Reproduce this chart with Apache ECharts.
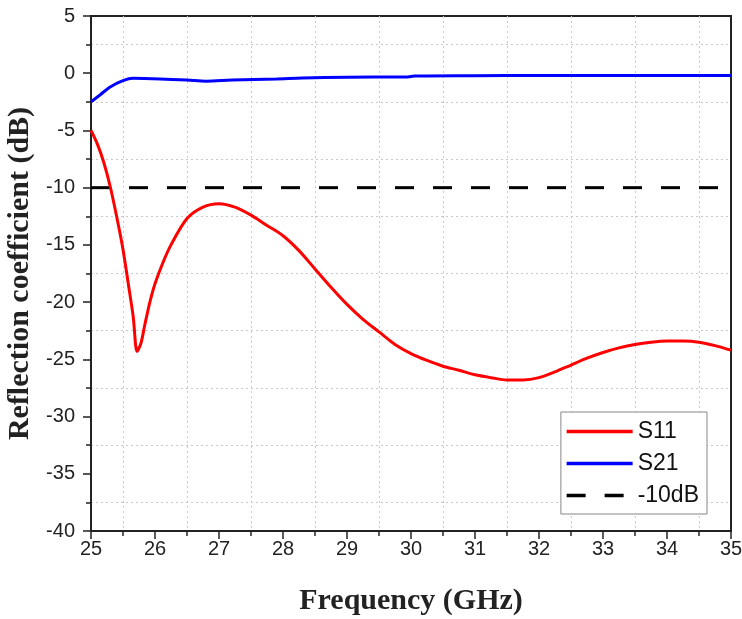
<!DOCTYPE html>
<html>
<head>
<meta charset="utf-8">
<script src="https://cdn.jsdelivr.net/npm/echarts@6/dist/echarts.min.js"></script>
<style>html,body{margin:0;padding:0;background:#fff;}#c{width:742px;height:619px;}</style>
</head>
<body>
<div id="c"></div>
<script>
// Data
var s11Freq = [25.0, 25.1, 25.2, 25.3, 25.4, 25.5, 25.58, 25.66, 25.72, 25.78, 25.84, 25.92, 26.0, 26.12, 26.25, 26.5, 26.75, 27.0, 27.25, 27.5, 27.75, 28.0, 28.25, 28.5, 28.75, 29.0, 29.25, 29.5, 29.75, 30.0, 30.25, 30.5, 30.75, 31.0, 31.25, 31.5, 31.75, 32.0, 32.25, 32.5, 32.75, 33.0, 33.25, 33.5, 33.75, 34.0, 34.25, 34.5, 34.75, 35.0];
var s11Val  = [-5.0, -6.2, -7.8, -9.9, -12.5, -15.4, -18.3, -21.3, -24.3, -23.6, -22.0, -20.0, -18.4, -16.6, -15.0, -12.7, -11.7, -11.4, -11.7, -12.4, -13.3, -14.2, -15.5, -17.1, -18.7, -20.2, -21.5, -22.6, -23.7, -24.5, -25.1, -25.6, -25.95, -26.35, -26.6, -26.8, -26.8, -26.6, -26.1, -25.5, -24.9, -24.4, -24.0, -23.7, -23.5, -23.4, -23.4, -23.5, -23.8, -24.2];
var s21Freq = [25.0, 25.14, 25.3, 25.5, 25.66, 26.08, 26.5, 26.8, 27.2, 27.9, 28.3, 29.0, 29.95, 30.05, 31.0, 32.0, 33.0, 34.0, 35.0];
var s21Val  = [-2.5, -1.9, -1.2, -0.65, -0.45, -0.5, -0.6, -0.7, -0.6, -0.5, -0.42, -0.35, -0.32, -0.25, -0.22, -0.2, -0.2, -0.2, -0.2];
var refFreq = [25, 35];
var refVal = [-10, -10];
var seriesNames = ['S11', 'S21', '-10dB'];
var xTitle = 'Frequency (GHz)';
var yTitle = 'Reflection coefficient (dB)';

function zip(a, b) { return a.map(function (v, i) { return [v, b[i]]; }); }

var chart = echarts.init(document.getElementById('c'));
var tickFont = { fontFamily: 'Liberation Sans, Arial, sans-serif', fontSize: 20, color: '#222' };
var titleFont = { fontFamily: 'Liberation Serif, Times New Roman, serif', fontSize: 30, fontWeight: 'bold', color: '#222' };
var dotted = { color: '#c8c8c8', width: 1, type: [2, 3] };

chart.setOption({
  animation: false,
  backgroundColor: '#fff',
  grid: { left: 91, right: 11, top: 16, bottom: 88, containLabel: false, outerBoundsMode: 'none',
          show: true, borderColor: '#222', borderWidth: 2 },
  legend: {
    orient: 'vertical',
    right: 35, bottom: 105,
    data: seriesNames,
    itemWidth: 66, itemHeight: 18, itemGap: 9,
    borderColor: '#888', borderWidth: 1,
    padding: [8, 8, 7, 4],
    backgroundColor: '#fff',
    itemStyle: { opacity: 0 },
    lineStyle: { width: 3.5 },
    textStyle: { fontFamily: 'Liberation Sans, Arial, sans-serif', fontSize: 23, color: '#111' }
  },
  xAxis: {
    type: 'value', min: 25, max: 35, interval: 1,
    name: xTitle, nameLocation: 'middle', nameGap: 55, nameTextStyle: titleFont,
    axisLine: { onZero: false, lineStyle: { color: '#222', width: 2 } },
    axisTick: { length: 8, lineStyle: { color: '#222', width: 1.5 } },
    minorTick: { show: true, splitNumber: 2, length: 5, lineStyle: { color: '#222', width: 1.5 } },
    axisLabel: Object.assign({ margin: 8 }, tickFont),
    splitLine: { show: false },
    minorSplitLine: { show: true, lineStyle: dotted }
  },
  yAxis: {
    type: 'value', min: -40, max: 5, interval: 5,
    name: yTitle, nameLocation: 'middle', nameGap: 52, nameTextStyle: titleFont,
    axisLine: { show: true, onZero: false, lineStyle: { color: '#222', width: 2 } },
    axisTick: { show: true, length: 8, lineStyle: { color: '#222', width: 1.5 } },
    minorTick: { show: true, splitNumber: 2, length: 5, lineStyle: { color: '#222', width: 1.5 } },
    axisLabel: Object.assign({ margin: 16 }, tickFont),
    splitLine: { show: false },
    minorSplitLine: { show: true, lineStyle: dotted }
  },
  series: [
    { name: seriesNames[0], type: 'line', data: zip(s11Freq, s11Val), showSymbol: false, symbol: 'none', smooth: 0.3,
      lineStyle: { color: '#ff0000', width: 3 }, itemStyle: { color: '#ff0000' }, z: 3 },
    { name: seriesNames[1], type: 'line', data: zip(s21Freq, s21Val), showSymbol: false, symbol: 'none', smooth: 0.3,
      lineStyle: { color: '#0000ff', width: 3 }, itemStyle: { color: '#0000ff' }, z: 3 },
    { name: seriesNames[2], type: 'line', data: zip(refFreq, refVal), showSymbol: false, symbol: 'none',
      lineStyle: { color: '#000', width: 3, type: [19, 19] }, itemStyle: { color: '#000' }, z: 2 }
  ]
});
</script>
</body>
</html>
